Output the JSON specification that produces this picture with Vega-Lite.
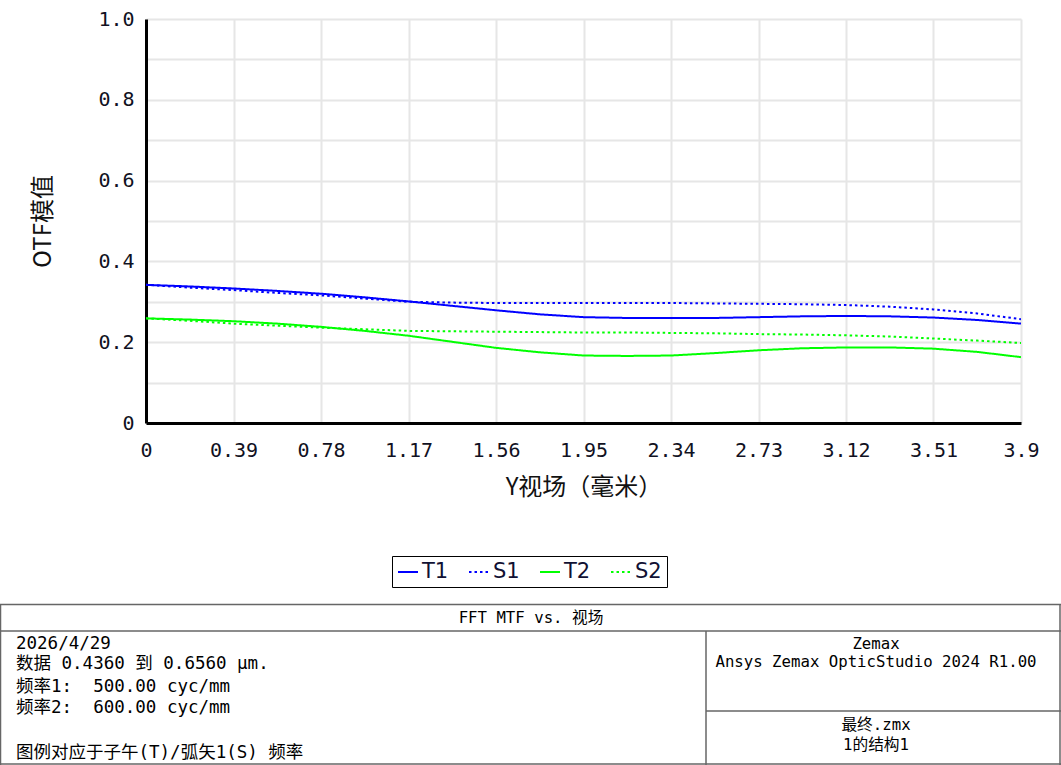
{
  "$schema": "https://vega.github.io/schema/vega-lite/v6.json",
  "autosize": {"type": "none"},
  "width": 875,
  "height": 404,
  "padding": {"left": 146, "top": 19, "right": 40, "bottom": 342},
  "background": "white",
  "config": {
    "view": {"stroke": null},
    "axis": {"labelFont": "DejaVu Sans Mono", "labelFontSize": 20, "labelColor": "#111122", "titleFont": "Noto Sans CJK SC", "titleFontSize": 24, "titleFontWeight": "normal", "titleColor": "#111111"}
  },
  "datasets": {
    "mtf": [
      {"x": 0, "v": 0.342, "s": "T1"}, {"x": 0.195, "v": 0.338, "s": "T1"}, {"x": 0.39, "v": 0.333, "s": "T1"}, {"x": 0.585, "v": 0.327, "s": "T1"}, {"x": 0.78, "v": 0.32, "s": "T1"}, {"x": 0.975, "v": 0.311, "s": "T1"}, {"x": 1.17, "v": 0.301, "s": "T1"}, {"x": 1.365, "v": 0.29, "s": "T1"}, {"x": 1.56, "v": 0.279, "s": "T1"}, {"x": 1.755, "v": 0.269, "s": "T1"}, {"x": 1.95, "v": 0.262, "s": "T1"}, {"x": 2.145, "v": 0.26, "s": "T1"}, {"x": 2.34, "v": 0.26, "s": "T1"}, {"x": 2.535, "v": 0.26, "s": "T1"}, {"x": 2.73, "v": 0.262, "s": "T1"}, {"x": 2.925, "v": 0.264, "s": "T1"}, {"x": 3.12, "v": 0.265, "s": "T1"}, {"x": 3.315, "v": 0.264, "s": "T1"}, {"x": 3.51, "v": 0.261, "s": "T1"}, {"x": 3.705, "v": 0.255, "s": "T1"}, {"x": 3.9, "v": 0.246, "s": "T1"},
      {"x": 0, "v": 0.342, "s": "S1"}, {"x": 0.195, "v": 0.335, "s": "S1"}, {"x": 0.39, "v": 0.329, "s": "S1"}, {"x": 0.585, "v": 0.322, "s": "S1"}, {"x": 0.78, "v": 0.316, "s": "S1"}, {"x": 0.975, "v": 0.308, "s": "S1"}, {"x": 1.17, "v": 0.3, "s": "S1"}, {"x": 1.365, "v": 0.298, "s": "S1"}, {"x": 1.56, "v": 0.297, "s": "S1"}, {"x": 1.755, "v": 0.297, "s": "S1"}, {"x": 1.95, "v": 0.297, "s": "S1"}, {"x": 2.145, "v": 0.297, "s": "S1"}, {"x": 2.34, "v": 0.297, "s": "S1"}, {"x": 2.535, "v": 0.296, "s": "S1"}, {"x": 2.73, "v": 0.295, "s": "S1"}, {"x": 2.925, "v": 0.294, "s": "S1"}, {"x": 3.12, "v": 0.292, "s": "S1"}, {"x": 3.315, "v": 0.288, "s": "S1"}, {"x": 3.51, "v": 0.281, "s": "S1"}, {"x": 3.705, "v": 0.271, "s": "S1"}, {"x": 3.9, "v": 0.257, "s": "S1"},
      {"x": 0, "v": 0.259, "s": "T2"}, {"x": 0.195, "v": 0.256, "s": "T2"}, {"x": 0.39, "v": 0.252, "s": "T2"}, {"x": 0.585, "v": 0.246, "s": "T2"}, {"x": 0.78, "v": 0.238, "s": "T2"}, {"x": 0.975, "v": 0.228, "s": "T2"}, {"x": 1.17, "v": 0.216, "s": "T2"}, {"x": 1.365, "v": 0.201, "s": "T2"}, {"x": 1.56, "v": 0.186, "s": "T2"}, {"x": 1.755, "v": 0.175, "s": "T2"}, {"x": 1.95, "v": 0.167, "s": "T2"}, {"x": 2.145, "v": 0.166, "s": "T2"}, {"x": 2.34, "v": 0.167, "s": "T2"}, {"x": 2.535, "v": 0.173, "s": "T2"}, {"x": 2.73, "v": 0.18, "s": "T2"}, {"x": 2.925, "v": 0.185, "s": "T2"}, {"x": 3.12, "v": 0.187, "s": "T2"}, {"x": 3.315, "v": 0.187, "s": "T2"}, {"x": 3.51, "v": 0.184, "s": "T2"}, {"x": 3.705, "v": 0.176, "s": "T2"}, {"x": 3.9, "v": 0.163, "s": "T2"},
      {"x": 0, "v": 0.259, "s": "S2"}, {"x": 0.195, "v": 0.253, "s": "S2"}, {"x": 0.39, "v": 0.246, "s": "S2"}, {"x": 0.585, "v": 0.241, "s": "S2"}, {"x": 0.78, "v": 0.236, "s": "S2"}, {"x": 0.975, "v": 0.232, "s": "S2"}, {"x": 1.17, "v": 0.228, "s": "S2"}, {"x": 1.365, "v": 0.227, "s": "S2"}, {"x": 1.56, "v": 0.226, "s": "S2"}, {"x": 1.755, "v": 0.225, "s": "S2"}, {"x": 1.95, "v": 0.224, "s": "S2"}, {"x": 2.145, "v": 0.224, "s": "S2"}, {"x": 2.34, "v": 0.223, "s": "S2"}, {"x": 2.535, "v": 0.222, "s": "S2"}, {"x": 2.73, "v": 0.22, "s": "S2"}, {"x": 2.925, "v": 0.219, "s": "S2"}, {"x": 3.12, "v": 0.217, "s": "S2"}, {"x": 3.315, "v": 0.214, "s": "S2"}, {"x": 3.51, "v": 0.209, "s": "S2"}, {"x": 3.705, "v": 0.204, "s": "S2"}, {"x": 3.9, "v": 0.198, "s": "S2"}
    ],
    "frame": [
      {"x": 0, "x2": 1061, "y": 0.5, "y2": 0.5},
      {"x": 0, "x2": 1061, "y": 27, "y2": 27},
      {"x": 0, "x2": 1061, "y": 160, "y2": 160},
      {"x": 0.5, "x2": 0.5, "y": 0, "y2": 161},
      {"x": 1060, "x2": 1060, "y": 0, "y2": 161},
      {"x": 706, "x2": 706, "y": 27, "y2": 161},
      {"x": 706, "x2": 1061, "y": 107, "y2": 107}
    ],
    "leftText": [
      {"x": 16, "y": 39.5, "t": "2026/4/29"},
      {"x": 16, "y": 60, "t": "数据 0.4360 到 0.6560 µm."},
      {"x": 16, "y": 83, "t": "频率1:\u00a0\u00a0500.00 cyc/mm"},
      {"x": 16, "y": 104, "t": "频率2:\u00a0\u00a0600.00 cyc/mm"},
      {"x": 16, "y": 148.5, "t": "图例对应于子午(T)/弧矢1(S) 频率"}
    ],
    "centerText": [
      {"x": 531, "y": 14, "t": "FFT MTF vs. 视场"},
      {"x": 876, "y": 40, "t": "Zemax"},
      {"x": 876, "y": 58, "t": "Ansys Zemax OpticStudio 2024 R1.00"},
      {"x": 876, "y": 121, "t": "最终.zmx"},
      {"x": 876, "y": 141, "t": "1的结构1"}
    ]
  },
  "layer": [
    {
      "data": {"name": "mtf"},
      "mark": {"type": "line", "strokeWidth": 2, "clip": true},
      "encoding": {
        "x": {
          "field": "x", "type": "quantitative",
          "scale": {"domain": [0, 3.9], "nice": false, "zero": false},
          "axis": {
            "title": "Y视场（毫米）", "titlePadding": 15,
            "values": [0, 0.39, 0.78, 1.17, 1.56, 1.95, 2.34, 2.73, 3.12, 3.51, 3.9],
            "labelExpr": "datum.value == 0 ? '0' : format(datum.value, '.3~g')",
            "labelFlush": false, "labelPadding": 17, "ticks": false,
            "domainColor": "#000000", "domainWidth": 3,
            "grid": true, "gridColor": "#e6e6e6", "gridWidth": 2
          }
        },
        "y": {
          "field": "v", "type": "quantitative",
          "scale": {"domain": [0, 1], "nice": false},
          "axis": {
            "title": "OTF模值", "titlePadding": 42,
            "values": [0, 0.1, 0.2, 0.3, 0.4, 0.5, 0.6, 0.7, 0.8, 0.9, 1.0],
            "labelExpr": "round(datum.value*10)%2==1 ? '' : (datum.value==0 ? '0' : format(datum.value,'.1f'))",
            "labelFlush": false, "labelPadding": 12, "ticks": false,
            "domainColor": "#000000", "domainWidth": 3,
            "grid": true, "gridColor": "#e6e6e6", "gridWidth": 2
          }
        },
        "color": {
          "field": "s", "type": "nominal",
          "scale": {"domain": ["T1", "S1", "T2", "S2"], "range": ["#0000ff", "#0000ff", "#00ff00", "#00ff00"]},
          "legend": {
            "title": null, "orient": "none", "legendX": 246, "legendY": 537, "direction": "horizontal",
            "symbolType": "stroke", "symbolSize": 400, "symbolStrokeWidth": 2,
            "labelFont": "DejaVu Sans", "labelFontSize": 21, "labelColor": "#111133", "labelOffset": 3,
            "columnPadding": 16, "padding": 5, "strokeColor": "#000000", "fillColor": "#ffffff"
          }
        },
        "strokeDash": {
          "field": "s", "type": "nominal",
          "scale": {"domain": ["T1", "S1", "T2", "S2"], "range": [[1, 0], [2.5, 3], [1, 0], [2.5, 3]]},
          "legend": {
            "title": null, "orient": "none", "legendX": 246, "legendY": 537, "direction": "horizontal",
            "symbolType": "stroke", "symbolSize": 400, "symbolStrokeWidth": 2,
            "labelFont": "DejaVu Sans", "labelFontSize": 21, "labelColor": "#111133", "labelOffset": 3,
            "columnPadding": 16, "padding": 5, "strokeColor": "#000000", "fillColor": "#ffffff"
          }
        }
      }
    },
    {
      "layer": [
        {
          "data": {"name": "frame"},
          "mark": {"type": "rule", "color": "#666666", "strokeWidth": 1.5},
          "encoding": {
            "x": {"field": "x", "type": "quantitative", "scale": {"domain": [0, 1061], "range": [-146, 915], "nice": false, "zero": false}, "axis": null},
            "x2": {"field": "x2"},
            "y": {"field": "y", "type": "quantitative", "scale": {"domain": [0, 161], "range": [585, 746], "nice": false, "zero": false}, "axis": null},
            "y2": {"field": "y2"}
          }
        },
        {
          "data": {"name": "leftText"},
          "mark": {"type": "text", "align": "left", "baseline": "middle", "font": "DejaVu Sans Mono, Noto Sans CJK SC", "fontSize": 17.5, "color": "#000000"},
          "encoding": {
            "x": {"field": "x", "type": "quantitative", "axis": null},
            "y": {"field": "y", "type": "quantitative", "axis": null},
            "text": {"field": "t"}
          }
        },
        {
          "data": {"name": "centerText"},
          "mark": {"type": "text", "align": "center", "baseline": "middle", "font": "DejaVu Sans Mono, Noto Sans CJK SC", "fontSize": 15.7, "color": "#000000"},
          "encoding": {
            "x": {"field": "x", "type": "quantitative", "axis": null},
            "y": {"field": "y", "type": "quantitative", "axis": null},
            "text": {"field": "t"}
          }
        }
      ]
    }
  ],
  "resolve": {"scale": {"x": "independent", "y": "independent"}, "axis": {"x": "independent", "y": "independent"}}
}
